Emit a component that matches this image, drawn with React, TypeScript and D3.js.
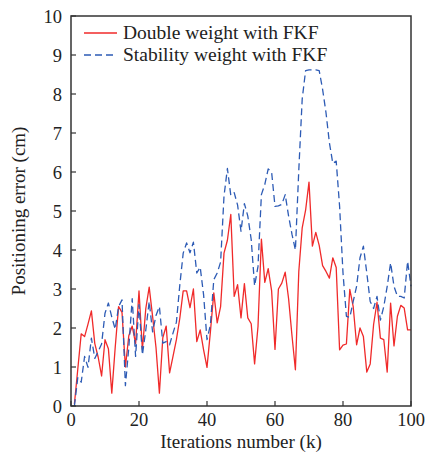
import React from "react";
import * as d3 from "d3";

const iterations: number[] = d3.range(1, 101);
const doubleWeight: number[] = [
  0.05, 0.95, 1.85, 1.78, 2.1, 2.44, 1.6, 1.25, 0.77, 1.7,
  1.47, 0.33, 1.5, 2.55, 2.4, 1.0, 1.8, 2.05, 1.6, 2.95,
  1.45, 2.5, 3.05, 2.3, 1.5, 0.33, 1.75, 2.05, 0.85, 1.27,
  1.7, 2.25, 2.95, 2.95, 2.52, 3.0, 1.65, 1.95, 1.44, 0.99,
  1.9, 2.9, 2.13, 2.55, 3.92, 4.25, 4.91, 2.81, 3.11, 2.26,
  3.14, 2.26, 2.11, 1.08, 2.04, 4.28, 3.17, 3.52, 2.96, 1.45,
  3.0, 3.15, 3.43, 2.75, 1.8, 0.93, 3.45, 4.57, 5.02, 5.74,
  4.1, 4.45, 4.12, 3.6, 3.45, 3.28, 3.8, 3.55, 1.44, 1.56,
  1.59, 2.99, 2.55, 1.57, 2.0, 1.78, 0.87, 1.08, 2.09, 2.66,
  1.74, 1.7, 0.87, 2.64, 1.54, 2.3, 2.58, 2.51, 1.95, 1.95,
];
const stabilityWeight: number[] = [
  0.0, 0.73, 0.61, 1.27, 0.99, 1.74, 1.22, 1.4, 1.59, 2.38,
  2.64, 2.28, 1.97, 2.55, 2.72, 0.52, 1.5, 2.75, 1.27, 2.6,
  1.31, 1.95, 2.68, 1.9, 2.32, 2.55, 1.61, 1.65, 1.57, 1.87,
  2.15, 3.1, 3.92, 4.18, 3.93, 4.2, 3.41, 3.56, 2.85, 1.7,
  2.08, 3.24, 3.41, 3.69, 5.38, 6.09, 5.4, 5.47, 5.15, 4.48,
  5.19, 4.87, 4.27, 3.08, 3.58, 5.42, 5.68, 6.08, 6.0, 5.12,
  5.13, 5.17, 5.42, 4.87, 4.4, 4.0, 6.05, 7.87, 8.6, 8.62,
  8.62, 8.62, 8.6, 8.12, 7.52, 6.75, 6.22, 6.28, 5.12, 3.41,
  2.3, 2.27, 2.68, 3.07, 3.8, 4.1, 3.41, 2.68, 2.5, 2.81,
  2.2, 2.55, 3.07, 3.67, 3.07, 2.81, 2.81, 2.77, 3.71, 3.07,
];
const xTicks: number[] = [0, 20, 40, 60, 80, 100];
const yTicks: number[] = [0, 1, 2, 3, 4, 5, 6, 7, 8, 9, 10];
const seriesNames: string[] = ["Double weight with FKF", "Stability weight with FKF"];

const W = 429;
const H = 453;
const M = { left: 71, right: 411, top: 16, bottom: 406 };
const FONT = "Liberation Serif, Times New Roman, serif";
const RED = "#f02a2a";
const BLUE = "#2d5bb5";
const AXIS = "#333";

export default function App() {
  const x = d3.scaleLinear().domain([0, 100]).range([M.left, M.right]);
  const y = d3.scaleLinear().domain([0, 10]).range([M.bottom, M.top]);
  const line = d3
    .line<number>()
    .x((_, i) => x(iterations[i]))
    .y((d) => y(d));

  return (
    <svg
      width={W}
      height={H}
      style={{ position: "absolute", left: 0, top: 0, background: "#fff", fontFamily: FONT }}
    >
      <path d={line(doubleWeight) || ""} fill="none" stroke={RED} strokeWidth={1.3} strokeLinejoin="round" />
      <path
        d={line(stabilityWeight) || ""}
        fill="none"
        stroke={BLUE}
        strokeWidth={1.3}
        strokeDasharray="7,4"
        strokeLinejoin="round"
      />
      <rect
        x={M.left}
        y={M.top}
        width={M.right - M.left}
        height={M.bottom - M.top}
        fill="none"
        stroke={AXIS}
        strokeWidth={1.5}
      />
      {xTicks.map((t) => (
        <g key={"x" + t}>
          <line x1={x(t)} x2={x(t)} y1={M.bottom} y2={M.bottom - 5} stroke={AXIS} strokeWidth={1.2} />
          <text x={x(t)} y={M.bottom + 20} textAnchor="middle" fontSize={18.5} fill="#222" fontFamily={FONT}>
            {t}
          </text>
        </g>
      ))}
      {yTicks.map((t) => (
        <g key={"y" + t}>
          <line x1={M.left} x2={M.left + 5} y1={y(t)} y2={y(t)} stroke={AXIS} strokeWidth={1.2} />
          <text x={M.left - 9} y={y(t) + 6.5} textAnchor="end" fontSize={18.5} fill="#222" fontFamily={FONT}>
            {t}
          </text>
        </g>
      ))}
      <text x={(M.left + M.right) / 2} y={448} textAnchor="middle" fontSize={19} fill="#222" fontFamily={FONT}>
        Iterations number (k)
      </text>
      <text
        transform={`translate(25,${(M.top + M.bottom) / 2}) rotate(-90)`}
        textAnchor="middle"
        fontSize={19}
        fill="#222"
        fontFamily={FONT}
      >
        Positioning error (cm)
      </text>
      <g>
        <line x1={84} x2={117} y1={33} y2={33} stroke={RED} strokeWidth={1.3} />
        <text x={123} y={39} fontSize={19.5} fill="#222" fontFamily={FONT}>
          {seriesNames[0]}
        </text>
        <line x1={84} x2={117} y1={55} y2={55} stroke={BLUE} strokeWidth={1.3} strokeDasharray="7,4" />
        <text x={123} y={61} fontSize={19.5} fill="#222" fontFamily={FONT}>
          {seriesNames[1]}
        </text>
      </g>
    </svg>
  );
}
